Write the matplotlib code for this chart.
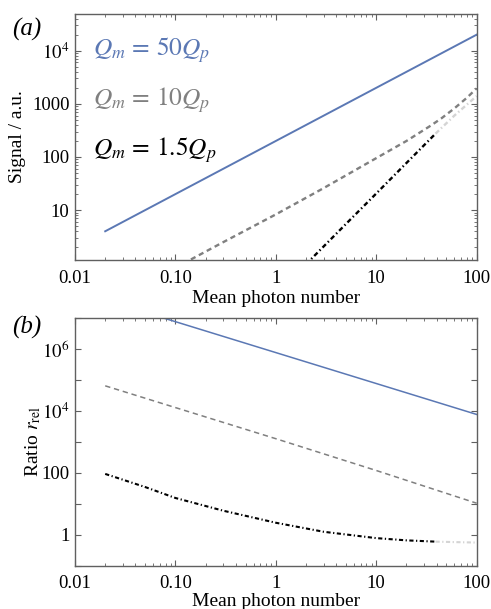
import matplotlib
matplotlib.use("Agg")
import matplotlib.pyplot as plt
from matplotlib.ticker import LogLocator, NullFormatter, NullLocator

plt.rcParams['font.family'] = ['Liberation Serif', 'DejaVu Serif']
plt.rcParams['mathtext.fontset'] = 'stix'

# --- data ---
# panel (a): signal vs mean photon number
blue_a_n = [0.02, 0.1, 1, 10, 100]
blue_a = [4, 20, 200, 2000, 20000]
gray_a_n = [0.1, 0.138, 0.3, 1, 3, 10, 20, 35, 45, 60, 80, 100]
gray_a = [0.8, 1.14, 2.5, 8.3, 26, 95, 200, 390, 540, 820, 1300, 1950]
black_a_n = [2.0, 2.19, 5, 10, 20, 39]
black_a = [0.95, 1.14, 5.5, 20.5, 77, 275]
fade_a_n = [39, 60, 100]
fade_a = [275, 600, 1400]

# panel (b): ratio r_rel vs mean photon number
blue_b_n = [0.02, 0.1, 1, 10, 100]
blue_b = [3.9e7, 7.8e6, 7.8e5, 7.8e4, 7.8e3]
gray_b_n = [0.02, 0.1, 1, 10, 100]
gray_b = [65600, 13000, 1280, 120, 10.5]
black_b_n = [0.02, 0.05, 0.1, 0.3, 1, 3, 10, 20, 39]
black_b = [93, 35, 15.5, 6.0, 2.45, 1.25, 0.78, 0.66, 0.6]
fade_b_n = [39, 60, 100]
fade_b = [0.6, 0.58, 0.56]

x_ticks = [0.01, 0.1, 1, 10, 100]
x_labels = ['0.01', '0.10', '1', '10', '100']
ya_ticks = [10, 100, 1000, 1e4]
ya_labels = ['10', '100', '1000', r'$10^4$']
yb_ticks = [1, 100, 1e4, 1e6]
yb_labels = ['1', '100', r'$10^4$', r'$10^6$']

labels = [r'$Q_m\,=\,50Q_p$', r'$Q_m\,=\,10Q_p$', r'$Q_m\,=\,1.5Q_p$']

BLUE = '#5b78b4'
GRAY = '#808080'
LIGHT = '#d4d4d4'
FRAME = '#606060'

fig = plt.figure(figsize=(4.91, 6.09), dpi=100)
ax1 = fig.add_axes([0.1527, 0.573, 0.818, 0.404])
ax2 = fig.add_axes([0.1527, 0.0711, 0.818, 0.4062])


def style_axes(ax, yticks, ylabels, yminor):
    ax.set_xscale('log')
    ax.set_yscale('log')
    ax.set_xlim(0.01, 100)
    ax.set_xticks(x_ticks)
    ax.set_xticklabels(x_labels)
    ax.xaxis.set_minor_locator(LogLocator(base=10, subs=range(2, 10), numticks=20))
    ax.xaxis.set_minor_formatter(NullFormatter())
    if yminor:
        ax.set_yticks(yticks)
        ax.yaxis.set_minor_locator(LogLocator(base=10, subs=range(2, 10), numticks=20))
    else:
        ax.yaxis.set_major_locator(LogLocator(base=10, numticks=20))
        ax.yaxis.set_minor_locator(NullLocator())
    ax.yaxis.set_major_formatter(
        plt.FuncFormatter(lambda v, p: dict(zip(yticks, ylabels)).get(v, '')))
    ax.yaxis.set_minor_formatter(NullFormatter())
    ax.tick_params(which='both', direction='in', top=True, right=True,
                   color=FRAME, labelsize=13.5)
    ax.tick_params(axis='x', pad=7)
    ax.tick_params(axis='y', pad=4)
    ax.tick_params(which='major', length=4.5, width=0.8)
    ax.tick_params(which='minor', length=2.5, width=0.6)
    for s in ax.spines.values():
        s.set_color(FRAME)
        s.set_linewidth(1.0)
    ax.set_xlabel('Mean photon number', fontsize=14)


# panel (a)
ax1.plot(blue_a_n, blue_a, color=BLUE, lw=1.4)
ax1.plot(gray_a_n, gray_a, color=GRAY, lw=1.7, dashes=(2.2, 1.6))
ax1.plot(black_a_n, black_a, color='black', lw=1.7, dashes=(2.0, 1.2, 0.6, 1.2))
ax1.plot(fade_a_n, fade_a, color=LIGHT, lw=1.7, dashes=(2.0, 1.2, 0.6, 1.2))
ax1.set_ylim(1.15, 4.9e4)
style_axes(ax1, ya_ticks, ya_labels, True)
ax1.set_ylabel('Signal / a.u.', fontsize=14)
ax1.yaxis.set_label_coords(-0.122, 0.5)
ax1.xaxis.set_label_coords(0.5, -0.122)

for lab, col, yy in zip(labels, [BLUE, GRAY, 'black'], [0.854, 0.65, 0.447]):
    ax1.text(0.045, yy, lab, color=col, fontsize=18.3, transform=ax1.transAxes,
             va='center', ha='left')

# panel (b)
ax2.plot(blue_b_n, blue_b, color=BLUE, lw=1.1)
ax2.plot(gray_b_n, gray_b, color=GRAY, lw=1.1, dashes=(3.5, 2.5))
ax2.plot(black_b_n, black_b, color='black', lw=1.5, dashes=(2.0, 1.2, 0.6, 1.2))
ax2.plot(fade_b_n, fade_b, color=LIGHT, lw=1.5, dashes=(2.0, 1.2, 0.6, 1.2))
ax2.set_ylim(0.1, 1e7)
style_axes(ax2, yb_ticks, yb_labels, False)
ax2.set_ylabel(r'Ratio $r_{\mathrm{rel}}$', fontsize=14)
ax2.yaxis.set_label_coords(-0.08, 0.5)
ax2.xaxis.set_label_coords(0.5, -0.11)

fig.text(0.025, 1 - 29 / 609, '(a)', fontsize=18, style='italic', va='center')
fig.text(0.025, 1 - 327 / 609, '(b)', fontsize=18, style='italic', va='center')

fig.savefig('out.png', dpi=100)
